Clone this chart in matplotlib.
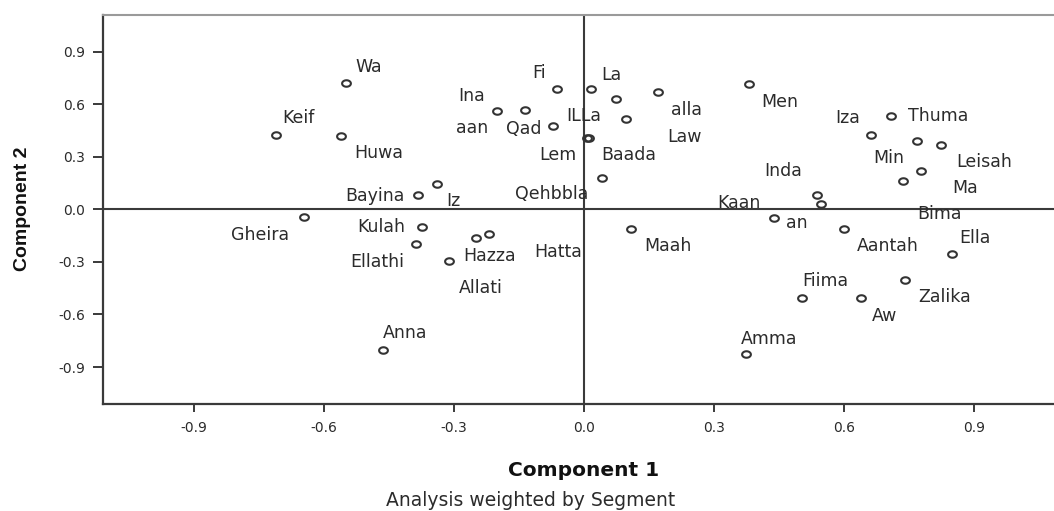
import numpy as np
import matplotlib
matplotlib.use("Agg")
import matplotlib.pyplot as plt
from matplotlib.path import Path
from matplotlib import font_manager

# ---------------- data ----------------
names = ["Wa", "Keif", "Huwa", "Fi", "Ina", "aan", "Qad", "ILLa", "La", "alla",
         "Law", "Lem", "Baada", "Men", "Thuma", "Iza", "Min", "Leisah", "Ma", "Bima",
         "Inda", "Kaan", "an", "Aantah", "Ella", "Zalika", "Fiima", "Aw", "Amma", "Maah",
         "Qehbbla", "Bayina", "Iz", "Gheira", "Kulah", "Ellathi", "Hazza", "Hatta", "Allati", "Anna"]
component1 = [-0.550, -0.711, -0.561, -0.062, -0.201, -0.135, -0.071, 0.074, 0.017, 0.171,
              0.098, 0.008, 0.012, 0.381, 0.708, 0.662, 0.768, 0.823, 0.777, 0.737,
              0.537, 0.546, 0.439, 0.600, 0.850, 0.740, 0.504, 0.639, 0.375, 0.109,
              0.041, -0.382, -0.340, -0.645, -0.373, -0.388, -0.250, -0.219, -0.311, -0.464]
component2 = [0.719, 0.422, 0.418, 0.685, 0.561, 0.565, 0.477, 0.631, 0.685, 0.671,
              0.515, 0.406, 0.404, 0.715, 0.534, 0.422, 0.390, 0.365, 0.217, 0.161,
              0.082, 0.030, -0.051, -0.114, -0.255, -0.405, -0.504, -0.504, -0.825, -0.111,
              0.177, 0.080, 0.144, -0.046, -0.099, -0.200, -0.162, -0.143, -0.295, -0.803]
tick_values = [-0.9, -0.6, -0.3, 0.0, 0.3, 0.6, 0.9]
tick_labels = ["-0.9", "-0.6", "-0.3", "0.0", "0.3", "0.6", "0.9"]
x_title = "Component 1"
y_title = "Component 2"
footnote = "Analysis weighted by Segment"

# label placement offsets (pixels, label centre relative to point)
label_offsets = [(23, 16), (23, 17), (38, -17), (-18, 16), (-25, 15), (-53, -18), (-29, -3),
                 (-32, -17), (20, 14), (28, -18), (58, -18), (-30, -17), (40, -17), (31, -18),
                 (47, 0), (-23, 17), (-28, -17), (44, -17), (44, -17), (36, -33), (-33, 24),
                 (-82, 1), (23, -5), (44, -17), (23, 16), (40, -17), (23, 17), (24, -18),
                 (23, 15), (37, -17), (-50, -16), (-44, -1), (17, -17), (-44, -18), (-41, 0),
                 (-39, -18), (14, -18), (69, -18), (32, -27), (22, 17)]

# ---------------- styling ----------------
W, H = 1054, 511
fig = plt.figure(figsize=(W / 100, H / 100), dpi=100)
fig.patch.set_facecolor("white")

left_px, top_px, bottom_px = 102.7, 14.7, 404.0
ax = fig.add_axes([left_px / W, 1 - bottom_px / H, 1 - left_px / W, (bottom_px - top_px) / H])
ax.set_xlim(-1.1107, 1.0847)
ax.set_ylim(-1.1107, 1.110)

dark = "#3a3a3a"
text_col = "#2b2b2b"

ax.axhline(0, color=dark, lw=1.5, zorder=1)
ax.axvline(0, color=dark, lw=1.5, zorder=1)

theta = np.linspace(0, 2 * np.pi, 80)
ell = Path(np.column_stack([np.cos(theta), 0.74 * np.sin(theta)]), closed=True)
ax.plot(component1, component2, linestyle="none", marker=ell, markersize=6.3,
        markerfacecolor="none", markeredgecolor="#333333", markeredgewidth=1.5, zorder=3)

for name, xv, yv, (dx, dy) in zip(names, component1, component2, label_offsets):
    ax.annotate(name, (xv, yv), xytext=(dx, dy), textcoords="offset pixels",
                ha="center", va="center", fontsize=12.5, color=text_col,
                family="DejaVu Sans", zorder=4)

ax.set_xticks(tick_values)
ax.set_xticklabels(tick_labels)
ax.set_yticks(tick_values)
ax.set_yticklabels(tick_labels)
ax.tick_params(axis="x", direction="out", length=6, width=1.4, color=dark,
               labelsize=10, labelcolor=text_col, pad=6.5)
ax.tick_params(axis="y", direction="out", length=7.5, width=1.4, color=dark,
               labelsize=10, labelcolor=text_col, pad=5)

for side in ["left", "bottom"]:
    ax.spines[side].set_color(dark)
    ax.spines[side].set_linewidth(1.6)
ax.spines["top"].set_color("#9a9a9a")
ax.spines["top"].set_linewidth(1.5)
ax.spines["right"].set_visible(False)

available = {f.name for f in font_manager.fontManager.ttflist}
yfam = "Liberation Sans" if "Liberation Sans" in available else "DejaVu Sans"

fig.text(584 / W, 1 - 476 / H, x_title, ha="center", va="baseline",
         fontsize=14.5, fontweight="bold", color="#111111", family="DejaVu Sans")
fig.text(23 / W, 1 - 209 / H, y_title, ha="center", va="center", rotation=90,
         fontsize=14, fontweight="bold", color="#111111", family=yfam)
fig.text(531 / W, 1 - 505.5 / H, footnote, ha="center", va="baseline",
         fontsize=13.5, color=text_col, family="DejaVu Sans")

fig.savefig("out.png", dpi=100, facecolor="white")
